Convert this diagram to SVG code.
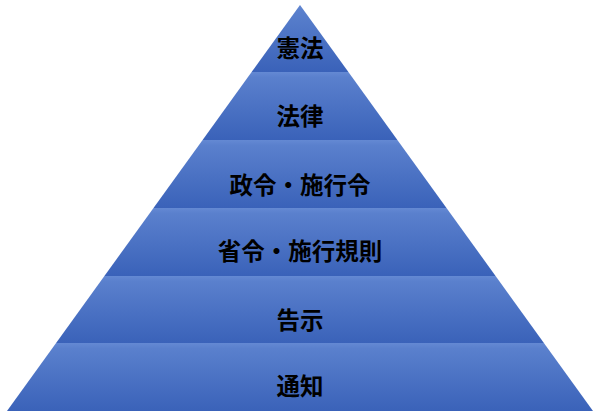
<svg xmlns="http://www.w3.org/2000/svg" width="600" height="411" viewBox="0 0 600 411">
  <defs>
    <linearGradient id="band" x1="0" y1="0" x2="0" y2="1">
      <stop offset="0" stop-color="#6489d3"/>
      <stop offset="0.08" stop-color="#5a80cd"/>
      <stop offset="1" stop-color="#3a62b9"/>
    </linearGradient>
  </defs>
  <style>
    .band { fill: url(#band); }
    .label { font-family: "Noto Sans CJK JP", "Noto Sans CJK SC", sans-serif; font-size: 23.5px; font-weight: bold; fill: #000; text-anchor: middle; }
  </style>
  <rect width="600" height="411" fill="#ffffff"/>
  <g id="node-kenpo">
    <polygon class="band" points="300,5 348.4,72 251.6,72"/>
    <text class="label" x="300" y="57">憲法</text>
  </g>
  <g id="node-horitsu">
    <polygon class="band" points="251.6,72 348.4,72 397.4,140 202.6,140"/>
    <text class="label" x="300" y="125">法律</text>
  </g>
  <g id="node-seirei">
    <polygon class="band" points="202.6,140 397.4,140 446.5,208 153.5,208"/>
    <text class="label" x="300" y="193.5">政令・施行令</text>
  </g>
  <g id="node-shorei">
    <polygon class="band" points="153.5,208 446.5,208 495.6,276 104.4,276"/>
    <text class="label" x="300" y="260">省令・施行規則</text>
  </g>
  <g id="node-kokuji">
    <polygon class="band" points="104.4,276 495.6,276 543.9,343 56.1,343"/>
    <text class="label" x="300" y="329">告示</text>
  </g>
  <g id="node-tsuchi">
    <polygon class="band" points="56.1,343 543.9,343 593,411 7,411"/>
    <text class="label" x="300" y="395">通知</text>
  </g>
</svg>
